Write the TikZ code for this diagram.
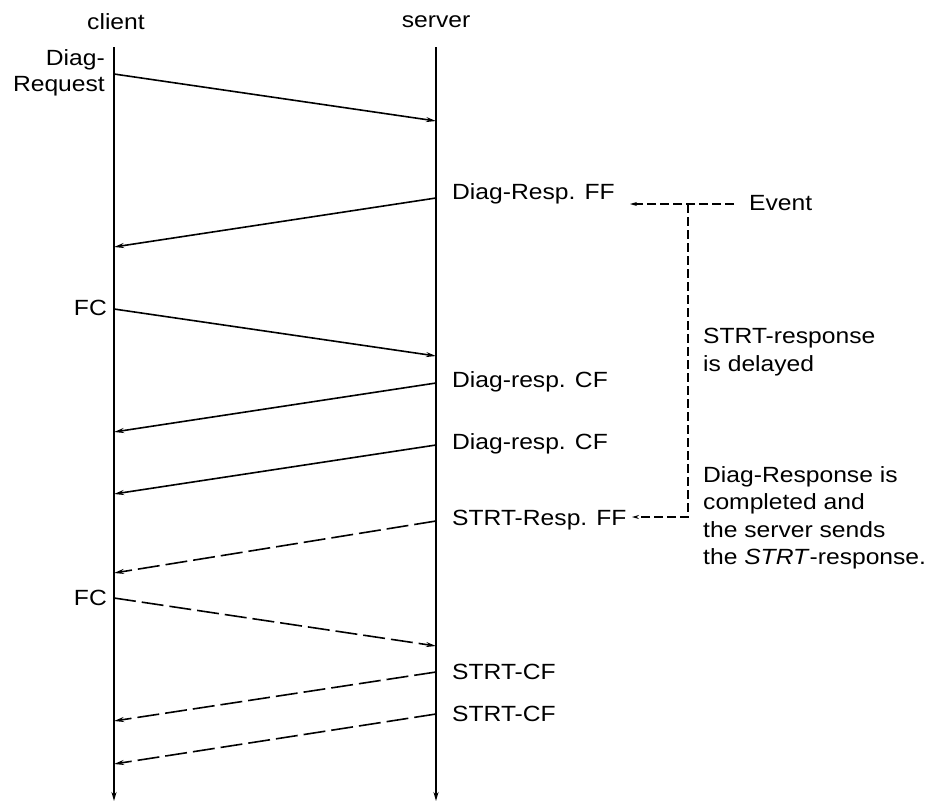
\documentclass[tikz,border=0pt]{standalone}
\usepackage{fontspec}
\setmainfont{Liberation Sans}[FakeStretch=1.12]
\usetikzlibrary{arrows.meta}
\begin{document}
\begin{tikzpicture}[x=1pt,y=-1pt,
  lbl/.style={font=\fontsize{22}{25.5}\selectfont, inner sep=0pt, align=left},
  note/.style={lbl, font=\fontsize{22}{27.5}\selectfont},
  msg/.style={line width=1.6pt, -{Stealth[length=10pt,width=5pt]}},
  dmsg/.style={msg, dash pattern=on 22pt off 6pt},
  life/.style={line width=1.8pt, -{Stealth[length=9pt,width=5pt]}},
  ev/.style={line width=1.2pt, dash pattern=on 9pt off 4pt},
  evarrow/.style={ev, -{Stealth[length=7pt,width=4pt]}}]
\useasboundingbox (0,0) rectangle (932,809);
% lifelines
\coordinate (ctop) at (114,47);
\coordinate (cbot) at (114,801);
\coordinate (stop) at (436,47);
\coordinate (sbot) at (436,801);
\draw[life] (ctop) -- (cbot);
\draw[life] (stop) -- (sbot);
\node[lbl] (client) at (116,22) {client};
\node[lbl] (server) at (436,22) {server};
% message end points
\coordinate (c1) at (114,74);  \coordinate (s1) at (436,121);
\coordinate (s2) at (436,198); \coordinate (c2) at (114,247);
\coordinate (c3) at (114,309); \coordinate (s3) at (436,356);
\coordinate (s4) at (436,383); \coordinate (c4) at (114,432);
\coordinate (s5) at (436,445); \coordinate (c5) at (114,494);
\coordinate (s6) at (436,521); \coordinate (c6) at (114,573);
\coordinate (c7) at (114,598); \coordinate (s7) at (436,646);
\coordinate (s8) at (436,672); \coordinate (c8) at (114,721);
\coordinate (s9) at (436,714); \coordinate (c9) at (114,764);
% messages
\draw[msg] (c1) -- (s1);
\draw[msg] (s2) -- (c2);
\draw[msg] (c3) -- (s3);
\draw[msg] (s4) -- (c4);
\draw[msg] (s5) -- (c5);
\draw[dmsg] (s6) -- (c6);
\draw[dmsg] (c7) -- (s7);
\draw[dmsg] (s8) -- (c8);
\draw[dmsg] (s9) -- (c9);
% left labels
\node[lbl, anchor=east, align=right] (dreq) at (105,73) {Diag-\\Request};
\node[lbl, anchor=east] (fc1) at (107,308) {FC};
\node[lbl, anchor=east] (fc2) at (107,598) {FC};
% right labels
\node[lbl, anchor=west] (drff) at (452,194) {Diag-Resp. FF};
\node[lbl, anchor=west] (drcf1) at (452,382) {Diag-resp. CF};
\node[lbl, anchor=west] (drcf2) at (452,444) {Diag-resp. CF};
\node[lbl, anchor=west] (srff) at (452,520) {STRT-Resp. FF};
\node[lbl, anchor=west] (scf1) at (452,672) {STRT-CF};
\node[lbl, anchor=west] (scf2) at (452,714) {STRT-CF};
% event
\node[lbl, anchor=west] (event) at (749,203) {Event};
\coordinate (evstart) at (734,204);
\coordinate (evhead) at (630,204);
\coordinate (evjoin) at (688,204);
\coordinate (evcorner) at (688,517);
\coordinate (evend) at (632,517);
\draw[evarrow] (evstart) -- (evhead);
\draw[evarrow] (evjoin) -- (evcorner) -- (evend);
\node[note, anchor=west] (delay) at (703,352) {STRT-response\\is delayed};
\node[note, anchor=west] (done) at (703,518) {Diag-Response is\\completed and\\the server sends\\the \textit{STRT}-response.};
\end{tikzpicture}
\end{document}
